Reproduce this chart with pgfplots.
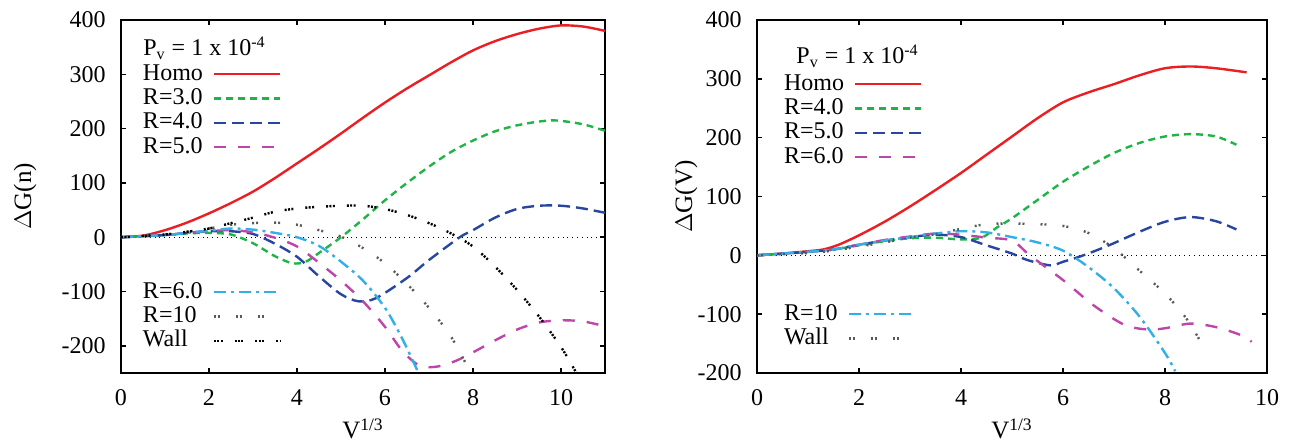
\documentclass[border=0pt]{standalone}
\usepackage{pgfplots}
\pgfplotsset{compat=1.18}
\usepackage{fontspec}
\setmainfont{Liberation Serif}

\definecolor{gred}{RGB}{235,30,35}
\definecolor{ggreen}{RGB}{30,180,70}
\definecolor{gblue}{RGB}{40,70,160}
\definecolor{gmag}{RGB}{190,70,170}
\definecolor{gcyan}{RGB}{50,175,230}
\definecolor{ggray}{RGB}{90,90,90}

\newcommand{\fnt}{\fontsize{12}{13}\selectfont}
\newcommand{\lfnt}{\fontsize{12.5}{14}\selectfont}

\pgfplotsset{
  gp/.style={
    scale only axis, height=176.5pt,
    axis line style={line width=1.2pt},
    tick style={line width=0.8pt, black},
    major tick length=2.5pt, tick align=inside,
    ytick={-200,-100,...,400}, xtick={0,2,...,10},
    tick label style={font=\fnt},
    yticklabel style={inner sep=0pt, xshift=-7.5pt},
    xticklabel style={inner sep=0pt, yshift=-8pt},
    /pgf/number format/assume math mode=true,
    every axis plot/.append style={line width=1.2pt, smooth, tension=0.5},
    legend plot pos=right, legend cell align=left,
    legend image code/.code={\draw[##1] (0pt,0pt) -- (33pt,0pt);},
    legend style={draw=none, fill=none, at={(0,1)}, anchor=north west,
      inner sep=0pt, outer sep=0pt,
      font=\fnt, row sep=1.2pt, column sep=5pt,
      nodes={inner sep=0pt, text height=8.5pt, text depth=2.5pt}},
  },
  s3/.style={ggreen, dash pattern=on 3.5pt off 2.5pt},
  s4/.style={gblue, dash pattern=on 6pt off 3pt},
  s5/.style={gmag, dash pattern=on 6pt off 6pt},
  s6/.style={gcyan, dash pattern=on 6pt off 2.5pt on 1.5pt off 2.5pt},
  s10/.style={ggray, dash pattern=on 1pt off 1pt on 1pt off 8pt},
  swall/.style={black, dash pattern=on 1pt off 0.7pt on 1pt off 0.7pt on 1pt off 6pt},
}

\begin{document}
\begin{tikzpicture}
\path[use as bounding box] (-60.5pt,-35.5pt) rectangle (585.5pt,186.5pt);

% left panel
\begin{axis}[gp, at={(0pt,0pt)}, anchor=south west, width=242pt,
  xmin=0, xmax=11, ymin=-250, ymax=400,
  xlabel={V\textsuperscript{1/3}}, ylabel={$\Delta$G(n)},
  every axis x label/.style={at={(axis description cs:0.5,-0.158)}, anchor=center, font=\lfnt},
  every axis y label/.style={at={(axis description cs:-0.198,0.5)}, rotate=90, anchor=center, font=\lfnt},
  legend style={xshift=11pt, yshift=-21.5pt}]
\addplot[black, line width=0.4pt, dotted, forget plot, sharp plot] coordinates {(0,0) (11,0)};
\addplot[gred] coordinates {(0,0) (0.5,3) (1,13) (1.5,27) (2,44) (2.5,63) (3,84) (3.5,109) (4,136) (4.5,163) (5,191) (5.5,220) (6,248) (6.5,274) (7,298) (7.5,322) (8,344) (8.5,361) (9,374) (9.5,384) (10,390) (10.5,388) (11,380)};
\addlegendentry{Homo}
\addplot[s3] coordinates {(0,0) (1,4) (1.5,7) (2,8) (2.5,5) (3,-11) (3.5,-35) (3.9,-48) (4.2,-45) (4.5,-29) (5,0) (5.5,33) (6,68) (6.5,100) (7,130) (7.5,157) (8,178) (8.5,195) (9,206) (9.5,213) (9.9,215) (10.5,208) (11,196)};
\addlegendentry{R=3.0}
\addplot[s4] coordinates {(0,0) (1,4) (1.5,8) (2,11) (2.5,11) (3,6) (3.5,-12) (4,-36) (4.5,-72) (5,-105) (5.4,-118) (5.8,-112) (6.5,-75) (7,-42) (7.7,0) (8,13) (8.5,36) (9,52) (9.5,58) (10,58) (10.5,53) (11,45)};
\addlegendentry{R=4.0}
\addplot[s5] coordinates {(0,0) (1,4) (1.5,8) (2,11) (2.5,13) (3,9) (3.5,-1) (4,-17) (4.5,-47) (5,-80) (5.5,-118) (6,-165) (6.4,-210) (6.8,-237) (7.2,-238) (7.6,-228) (8,-212) (8.5,-190) (9,-170) (9.5,-157) (10,-153) (10.5,-155) (11,-164)};
\addlegendentry{R=5.0}
\node[anchor=west, font=\fnt, inner sep=0pt] at (rel axis cs:0,1) [xshift=11pt, yshift=-14pt] {P\textsubscript{v} = 1 x 10\textsuperscript{-4}};
\end{axis}
\begin{axis}[gp, at={(0pt,0pt)}, anchor=south west, width=242pt, hide axis,
  xmin=0, xmax=11, ymin=-250, ymax=400,
  legend style={xshift=11pt, yshift=-130.5pt}]
\addplot[s6] coordinates {(0,0) (1,4) (1.5,8) (2,12) (2.5,16) (3,14) (3.5,8) (4,0) (4.5,-16) (5,-45) (5.5,-80) (6,-130) (6.4,-188) (6.75,-248)};
\addlegendentry{R=6.0}
\addplot[s10] coordinates {(0,0) (1,5) (1.5,10) (2,16) (2.5,23) (3,26) (3.5,27) (4,23) (4.5,13) (5,1) (5.5,-20) (6,-48) (6.5,-86) (7,-130) (7.5,-183) (7.95,-250)};
\addlegendentry{R=10}
\addplot[swall] coordinates {(0,0) (1,5) (1.5,10) (2,16) (2.5,26) (3,36) (3.5,47) (4,53) (4.5,56) (5,58) (5.5,58) (6,52) (6.5,41) (7,26) (7.5,7) (8,-17) (8.5,-54) (9,-97) (9.5,-146) (10,-202) (10.35,-250)};
\addlegendentry{Wall}
\end{axis}

% right panel
\begin{axis}[gp, at={(318pt,0pt)}, anchor=south west, width=255pt,
  xmin=0, xmax=10, ymin=-200, ymax=400,
  xlabel={V\textsuperscript{1/3}}, ylabel={$\Delta$G(V)},
  every axis x label/.style={at={(axis description cs:0.5,-0.158)}, anchor=center, font=\lfnt},
  every axis y label/.style={at={(axis description cs:-0.139,0.5)}, rotate=90, anchor=center, font=\lfnt},
  legend style={xshift=13.5pt, yshift=-26.5pt}]
\addplot[black, line width=0.4pt, dotted, forget plot, sharp plot] coordinates {(0,0) (10,0)};
\addplot[gred] coordinates {(0,0) (0.5,3) (1,7) (1.3,10) (1.6,18) (2,34) (2.5,57) (3,83) (3.5,111) (4,140) (4.5,171) (5,202) (5.5,233) (6,260) (6.5,277) (7,291) (7.5,306) (8,318) (8.5,321) (9,318) (9.6,311)};
\addlegendentry{Homo}
\addplot[s3] coordinates {(0,0) (0.5,3) (1,6) (1.5,10) (2,17) (2.5,24) (3,29) (3.5,30) (4,27) (4.4,30) (4.7,47) (5,63) (5.5,94) (6,125) (6.5,151) (7,174) (7.5,191) (8,202) (8.5,206) (9,202) (9.4,188)};
\addlegendentry{R=4.0}
\addplot[s4] coordinates {(0,0) (0.5,3) (1,6) (1.5,10) (2,18) (2.5,25) (3,31) (3.5,35) (4,31) (4.5,17) (5,3) (5.3,-8) (5.75,-17) (6,-11) (6.4,0) (6.9,17) (7.5,40) (8,57) (8.5,65) (9,58) (9.4,44)};
\addlegendentry{R=5.0}
\addplot[s5] coordinates {(0,0) (0.5,3) (1,6) (1.5,10) (2,18) (2.5,26) (3,32) (3.5,37) (4,35) (4.5,30) (5,25) (5.35,0) (6,-42) (6.6,-85) (7.2,-118) (7.65,-126) (8,-124) (8.5,-116) (9,-122) (9.5,-136) (9.7,-147)};
\addlegendentry{R=6.0}
\node[anchor=west, font=\fnt, inner sep=0pt] at (rel axis cs:0,1) [xshift=19.5pt, yshift=-18pt] {P\textsubscript{v} = 1 x 10\textsuperscript{-4}};
\end{axis}
\begin{axis}[gp, at={(318pt,0pt)}, anchor=south west, width=255pt, hide axis,
  xmin=0, xmax=10, ymin=-200, ymax=400,
  legend style={xshift=13.5pt, yshift=-141.5pt}]
\addplot[s6] coordinates {(0,0) (0.5,3) (1,6) (1.5,10) (2,18) (2.5,25) (3,31) (3.5,37) (4,41) (4.5,39) (5,31) (5.5,22) (6,8) (6.5,-20) (7,-56) (7.5,-104) (8,-166) (8.2,-197)};
\addlegendentry{R=10}
\addplot[s10] coordinates {(0,0) (0.5,2) (1,4) (1.5,8) (2,15) (2.5,22) (3,30) (3.5,36) (4,45) (4.5,53) (5,54) (5.5,53) (6,50) (6.5,38) (7,12) (7.5,-26) (8,-65) (8.4,-105) (8.7,-147)};
\addlegendentry{Wall}
\end{axis}
\end{tikzpicture}
\end{document}
